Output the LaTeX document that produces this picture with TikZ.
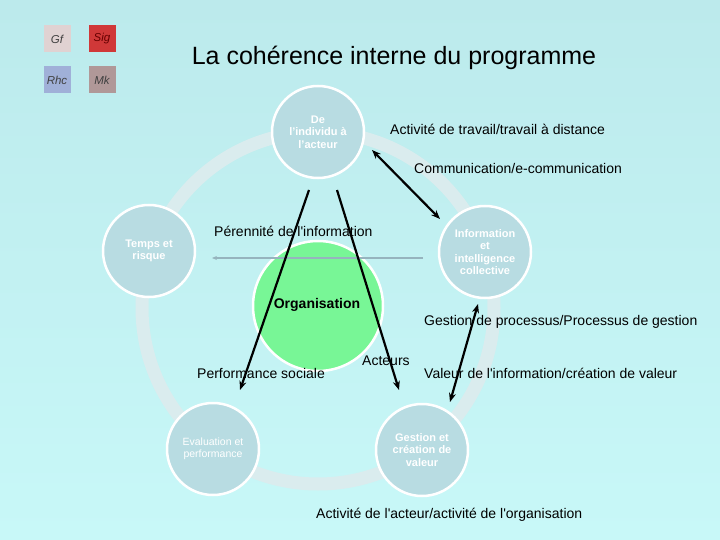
\documentclass[tikz,border=0pt]{standalone}
\usepackage{fontspec}
\setmainfont{Liberation Sans}
\usetikzlibrary{arrows.meta}
\definecolor{bgtop}{RGB}{188,234,236}
\definecolor{bgbot}{RGB}{200,248,248}
\definecolor{ringc}{RGB}{218,236,238}
\definecolor{bubc}{RGB}{184,220,226}
\definecolor{orgc}{RGB}{120,246,150}
\definecolor{sqgf}{RGB}{224,210,210}
\definecolor{sqsig}{RGB}{208,56,56}
\definecolor{sqrhc}{RGB}{160,176,216}
\definecolor{sqmk}{RGB}{176,152,152}
\definecolor{hline}{RGB}{150,180,190}
\newcommand{\q}{\textquotesingle}
\tikzset{
  bub/.style={circle, minimum size=92pt, inner sep=0pt, fill=bubc, draw=white, line width=2.5pt,
    text=white, font=\fontsize{11}{12.3}\selectfont\bfseries, align=center},
  lab/.style={anchor=west, inner sep=0pt, font=\fontsize{14}{15}\selectfont},
  sq/.style={minimum size=27pt, inner sep=0pt, font=\fontsize{11.5}{12}\selectfont\itshape},
  blk/.style={black, line width=2.2pt, -{Stealth[length=9pt,width=7pt]}},
  blk2/.style={black, line width=2.2pt, {Stealth[length=9pt,width=7pt]}-{Stealth[length=9pt,width=7pt]}}
}
\begin{document}
\begin{tikzpicture}[x=1pt,y=-1pt]
\useasboundingbox (0,0) rectangle (720,540);
\shade[top color=bgtop, bottom color=bgbot] (0,0) rectangle (720,540);
% squares
\node[sq, fill=sqgf, text=black!75] (gf) at (57,39) {Gf};
\node[sq, fill=sqsig, text=black!60!red] (sig) at (102,39) {Sig};
\node[sq, fill=sqrhc, text=black!75] (rhc) at (57,80) {Rhc};
\node[sq, fill=sqmk, text=black!75] (mk) at (102,80) {Mk};
% title
\node[font=\fontsize{25}{27}\selectfont] (title) at (394,58) {La cohérence interne du programme};
% ring
\draw[ringc, line width=13pt] (318,308) circle[radius=176pt];
% bubbles
\node[bub] (ind) at (318,132) {De\\l’individu à\\l’acteur};
\node[bub] (tps) at (149,251) {Temps et\\risque};
\node[bub] (inf) at (485,252) {Information\\et\\intelligence\\collective};
\node[bub, font=\fontsize{10.5}{12}\selectfont] (eva) at (213,449) {Evaluation et\\performance};
\node[bub] (ges) at (422,450) {Gestion et\\création de\\valeur};
\node[circle, minimum size=130pt, inner sep=0pt, fill=orgc, draw=white, line width=2.5pt] (org) at (318,306) {};
\node[font=\fontsize{14}{16}\selectfont\bfseries] (orgt) at (317,305) {Organisation};
% labels
\node[lab] (l1) at (390,129) {Activité de travail/travail à distance};
\node[lab] (l2) at (414,168) {Communication/e-communication};
\node[lab] (l3) at (214,231) {Pérennité de l\q information};
\node[lab] (l4) at (424,322) {Gestion de processus/Processus de gestion};
\node[lab] (l5) at (197,373) {Performance sociale};
\node[lab] (l6) at (362,361) {Acteurs};
\node[lab] (l7) at (424,373) {Valeur de l\q information/création de valeur};
\node[lab] (l8) at (316,515) {Activité de l\q acteur/activité de l\q organisation};
% connector end points
\coordinate (a1) at (372,150);
\coordinate (a2) at (440,219);
\coordinate (b1) at (478,304);
\coordinate (b2) at (450,402);
\coordinate (c1) at (309,190);
\coordinate (c2) at (240,390);
\coordinate (d1) at (337,190);
\coordinate (d2) at (399,390);
\coordinate (h1) at (423,258);
\coordinate (h2) at (212,258);
% connectors
\draw[hline, line width=1.2pt, -{Stealth[length=5pt,width=4pt]}] (h1) -- (h2);
\draw[blk2] (a1) -- (a2);
\draw[blk2] (b1) -- (b2);
\draw[blk] (c1) -- (c2);
\draw[blk] (d1) -- (d2);
\end{tikzpicture}
\end{document}
